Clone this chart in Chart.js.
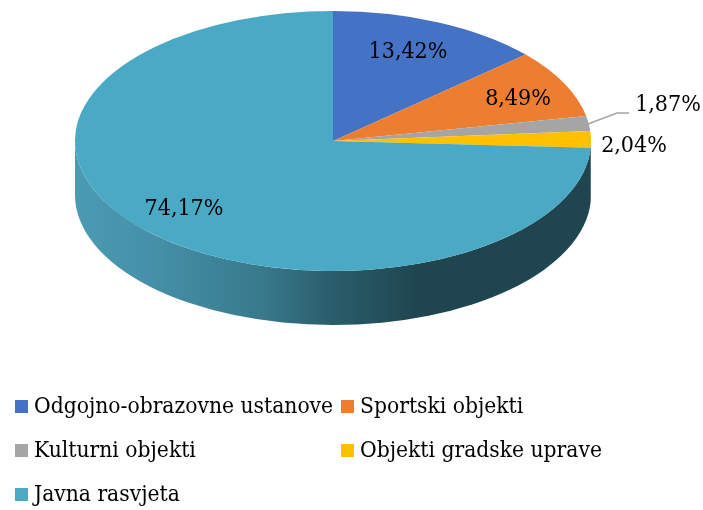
<!DOCTYPE html>
<html>
<head>
<meta charset="utf-8">
<script src="https://cdn.jsdelivr.net/npm/chart.js@4"></script>
<style>
html,body{margin:0;padding:0;background:#fff;}
#wrap{position:relative;width:703px;height:510px;overflow:hidden;}
#c{position:absolute;left:0;top:0;}
.sw{position:absolute;width:13px;height:13px;}
.lb{position:absolute;font:22.6px "DejaVu Serif Condensed","Liberation Serif",serif;color:#000;white-space:nowrap;line-height:24px;}
</style>
</head>
<body>
<div id="wrap"><canvas id="c" width="703" height="510"></canvas></div>
<script>
const categories = ["Odgojno-obrazovne ustanove","Sportski objekti","Kulturni objekti","Objekti gradske uprave","Javna rasvjeta"];
const values = [13.42,8.49,1.87,2.04,74.17];
const colors = ["#4472c4","#ed7d31","#a5a5a5","#ffc000","#4aa9c4"];
const labelPos = [[408,52],[518,99],[668,105],[634,146],[184,209]];
const legendPos = [[15,400],[341,400],[15,444],[341,444],[15,488]];
const CX=333, CY=141, RX=258, RY=130, DEPTH=54;

const wrap=document.getElementById('wrap');
categories.forEach((t,i)=>{
  const s=document.createElement('div');s.className='sw';
  s.style.left=legendPos[i][0]+'px';s.style.top=legendPos[i][1]+'px';s.style.background=colors[i];
  wrap.appendChild(s);
  const l=document.createElement('div');l.className='lb';l.textContent=t;
  l.style.left=(legendPos[i][0]+19)+'px';l.style.top=(legendPos[i][1]-7)+'px';
  wrap.appendChild(l);
});

const pie3d={
  id:'pie3d',
  beforeDatasetsDraw(chart){
    const ctx=chart.ctx, arcs=chart.getDatasetMeta(0).data;
    const g=ctx.createLinearGradient(CX-RX,0,CX+RX,0);
    g.addColorStop(0,'#4a9bb2');
    g.addColorStop(0.15,'#4590a8');
    g.addColorStop(0.36,'#387a8c');
    g.addColorStop(0.5,'#2a5c6b');
    g.addColorStop(0.66,'#1f4650');
    g.addColorStop(1,'#1f4650');
    ctx.save();
    arcs.forEach(a=>{
      const s=Math.max(a.startAngle,0), e=Math.min(a.endAngle,Math.PI);
      if(e<=s) return;
      ctx.beginPath();
      ctx.ellipse(CX,CY,RX,RY,0,s,e);
      ctx.ellipse(CX,CY+DEPTH,RX,RY,0,e,s,true);
      ctx.closePath();
      ctx.fillStyle=g;ctx.fill();
    });
    ctx.restore();
    const a0=arcs[0], sx=RX/a0.outerRadius, sy=RY/a0.outerRadius;
    ctx.save();
    ctx.translate(CX,CY);ctx.scale(sx,sy);ctx.translate(-a0.x,-a0.y);
  },
  afterDatasetsDraw(chart){
    const ctx=chart.ctx;
    ctx.restore();
    ctx.save();
    ctx.strokeStyle='#a5a5a5';ctx.lineWidth=1.5;
    ctx.beginPath();ctx.moveTo(588,124);ctx.lineTo(617,113);ctx.lineTo(629,113);ctx.stroke();
    ctx.fillStyle='#000';ctx.font='23px "DejaVu Serif Condensed","Liberation Serif",serif';
    ctx.textAlign='center';ctx.textBaseline='middle';
    values.forEach((v,i)=>{
      ctx.fillText(v.toFixed(2).replace('.',',')+'%',labelPos[i][0],labelPos[i][1]);
    });
    ctx.restore();
  }
};

new Chart(document.getElementById('c'),{
  type:'pie',
  data:{labels:categories,datasets:[{data:values,backgroundColor:colors,borderWidth:0,hoverOffset:0}]},
  options:{responsive:false,animation:false,maintainAspectRatio:false,
    plugins:{legend:{display:false},tooltip:{enabled:false}}},
  plugins:[pie3d]
});
</script>
</body>
</html>
